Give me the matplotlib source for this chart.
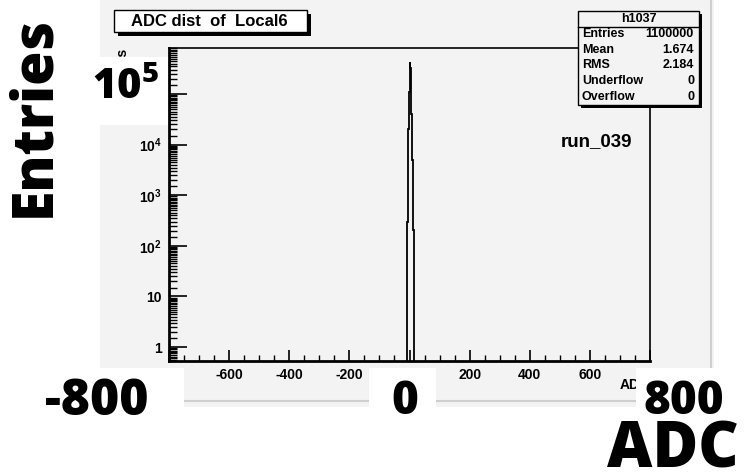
import numpy as np
import matplotlib
matplotlib.use("Agg")
import matplotlib.pyplot as plt
from matplotlib.patches import Rectangle
from matplotlib.lines import Line2D
from matplotlib.ticker import LogLocator, MultipleLocator, NullFormatter

# histogram of ADC values (bin edges and entries per bin)
bin_edges = [-8, -6, -4, -2, 0, 2, 4, 6, 8, 10, 12, 14, 16]
entries = [300, 560, 2.0e4, 1.1e5, 4.3e5, 3.3e5, 1.5e5, 4.0e4, 5000, 700, 205, 1]

hist_title = "ADC dist  of  Local6"
hist_name = "h1037"
stat_names = ["Entries", "Mean", "RMS", "Underflow", "Overflow"]
stat_values = ["1100000", "1.674", "2.184", "0", "0"]
run_label = "run_039"

x_ticks = [-800, -600, -400, -200, 0, 200, 400, 600, 800]
y_ticks = [1, 10, 1e2, 1e3, 1e4, 1e5]
y_ticklabels = ["1", "10", "$10^{2}$", "$10^{3}$", "$10^{4}$", "$10^{5}$"]

plt.rcParams["font.family"] = ["Liberation Sans", "DejaVu Sans"]
plt.rcParams["font.weight"] = "bold"
plt.rcParams["mathtext.fontset"] = "custom"
plt.rcParams["mathtext.rm"] = "Liberation Sans:bold"
plt.rcParams["mathtext.it"] = "Liberation Sans:bold"
plt.rcParams["mathtext.bf"] = "Open Sans:weight=heavy"

W, H = 750, 474
fig = plt.figure(figsize=(W / 100, H / 100), dpi=100)
fig.patch.set_facecolor("white")


def fx(x):
    return x / W


def fy(y):
    return 1 - y / H


def box(x0, y0, x1, y1, **kw):
    r = Rectangle((fx(x0), fy(y1)), fx(x1) - fx(x0), fy(y0) - fy(y1),
                  transform=fig.transFigure, **kw)
    fig.patches.append(r)
    return r


# ROOT canvas
canvas_gray = "#f3f3f3"
box(100, 0, 714, 407, facecolor=canvas_gray, edgecolor="none", zorder=-2)
fig.lines.append(Line2D([fx(100), fx(711)], [fy(401), fy(401)], transform=fig.transFigure,
                        color="#cfcfcf", lw=1.5, zorder=-1))
fig.lines.append(Line2D([fx(711), fx(711)], [fy(0), fy(401)], transform=fig.transFigure,
                        color="#cfcfcf", lw=1.5, zorder=-1))

ax = fig.add_axes([fx(169), fy(361), fx(650) - fx(169), fy(48) - fy(361)])
ax.set_facecolor(canvas_gray)
ax.stairs(entries, bin_edges, baseline=1e-3, color="black", lw=1.3)
ax.set_yscale("log")
ax.set_xlim(-800, 800)
ax.set_ylim(0.53, 8.1e5)

ax.set_xticks(x_ticks)
ax.set_xticklabels([str(v) for v in x_ticks], fontsize=10, fontweight="bold")
ax.xaxis.set_minor_locator(MultipleLocator(50))
ax.set_yticks(y_ticks)
ax.set_yticklabels(y_ticklabels, fontsize=10)
ax.yaxis.set_minor_locator(LogLocator(base=10, subs=np.arange(1.5, 10, 0.5), numticks=20))
ax.yaxis.set_minor_formatter(NullFormatter())

ax.tick_params(axis="x", which="major", direction="in", length=8, width=1.2, pad=5, top=False)
ax.tick_params(axis="x", which="minor", direction="in", length=4, width=1.0, top=False)
ax.tick_params(axis="y", which="major", direction="in", length=13, width=1.2, pad=5, right=False)
ax.tick_params(axis="y", which="minor", direction="in", length=6, width=1.0, right=False)
for s in ["left", "bottom"]:
    ax.spines[s].set_linewidth(2)
for s in ["top", "right"]:
    ax.spines[s].set_linewidth(1.2)

# axis titles (ROOT style)
fig.text(fx(650), fy(385), "ADC", ha="right", va="center", fontsize=10, fontweight="bold")
fig.text(fx(122), fy(48), "Entries", ha="center", va="top", rotation=90,
         fontsize=10, fontweight="bold")

# title box with shadow
box(118, 14, 311, 36, facecolor="black", edgecolor="none", zorder=2)
box(114, 10, 307, 32, facecolor="white", edgecolor="black", lw=1, zorder=3)
fig.text(fx(131), fy(21), hist_title, ha="left", va="center", fontsize=12,
         fontweight="bold", zorder=4)

# stats box with shadow
box(581, 14, 702, 108, facecolor="black", edgecolor="none", zorder=2)
box(578, 11, 699, 105, facecolor=canvas_gray, edgecolor="black", lw=1, zorder=3)
fig.lines.append(Line2D([fx(578), fx(699)], [fy(27), fy(27)], transform=fig.transFigure,
                        color="black", lw=1, zorder=4))
fig.text(fx(638.5), fy(19), hist_name, ha="center", va="center", fontsize=9,
         fontweight="bold", zorder=4)
for i, (n, v) in enumerate(zip(stat_names, stat_values)):
    yy = 34 + 15.7 * i
    fig.text(fx(582), fy(yy), n, ha="left", va="center", fontsize=9, fontweight="bold", zorder=4)
    fig.text(fx(694), fy(yy), v, ha="right", va="center", fontsize=9, fontweight="bold", zorder=4)

fig.text(fx(561), fy(142), run_label, ha="left", va="center", fontsize=13.5,
         fontweight="bold", zorder=4)

# large overlay labels on white patches
for x0, y0, x1, y1 in [(80, 57, 168, 125), (0, 368, 184, 440), (369, 368, 436, 440),
                       (636, 368, 750, 474)]:
    box(x0, y0, x1, y1, facecolor="white", edgecolor="none", zorder=9)

big = dict(family=["Open Sans", "DejaVu Sans"], fontweight="heavy", zorder=10)
fig.text(fx(35), fy(116), "Entries", ha="center", va="center", rotation=90, fontsize=40, **big)
fig.text(fx(125), fy(88), r"$\mathbf{10^{5}}$", ha="center", va="center", fontsize=30, **big)
fig.text(fx(97), fy(402), "-800", ha="center", va="center", fontsize=36, **big)
fig.text(fx(405), fy(402), "0", ha="center", va="center", fontsize=33, **big)
fig.text(fx(684), fy(402), "800", ha="center", va="center", fontsize=33, **big)
fig.text(fx(673), fy(450), "ADC", ha="center", va="center", fontsize=45, **big)

fig.savefig("out.png", dpi=100)
